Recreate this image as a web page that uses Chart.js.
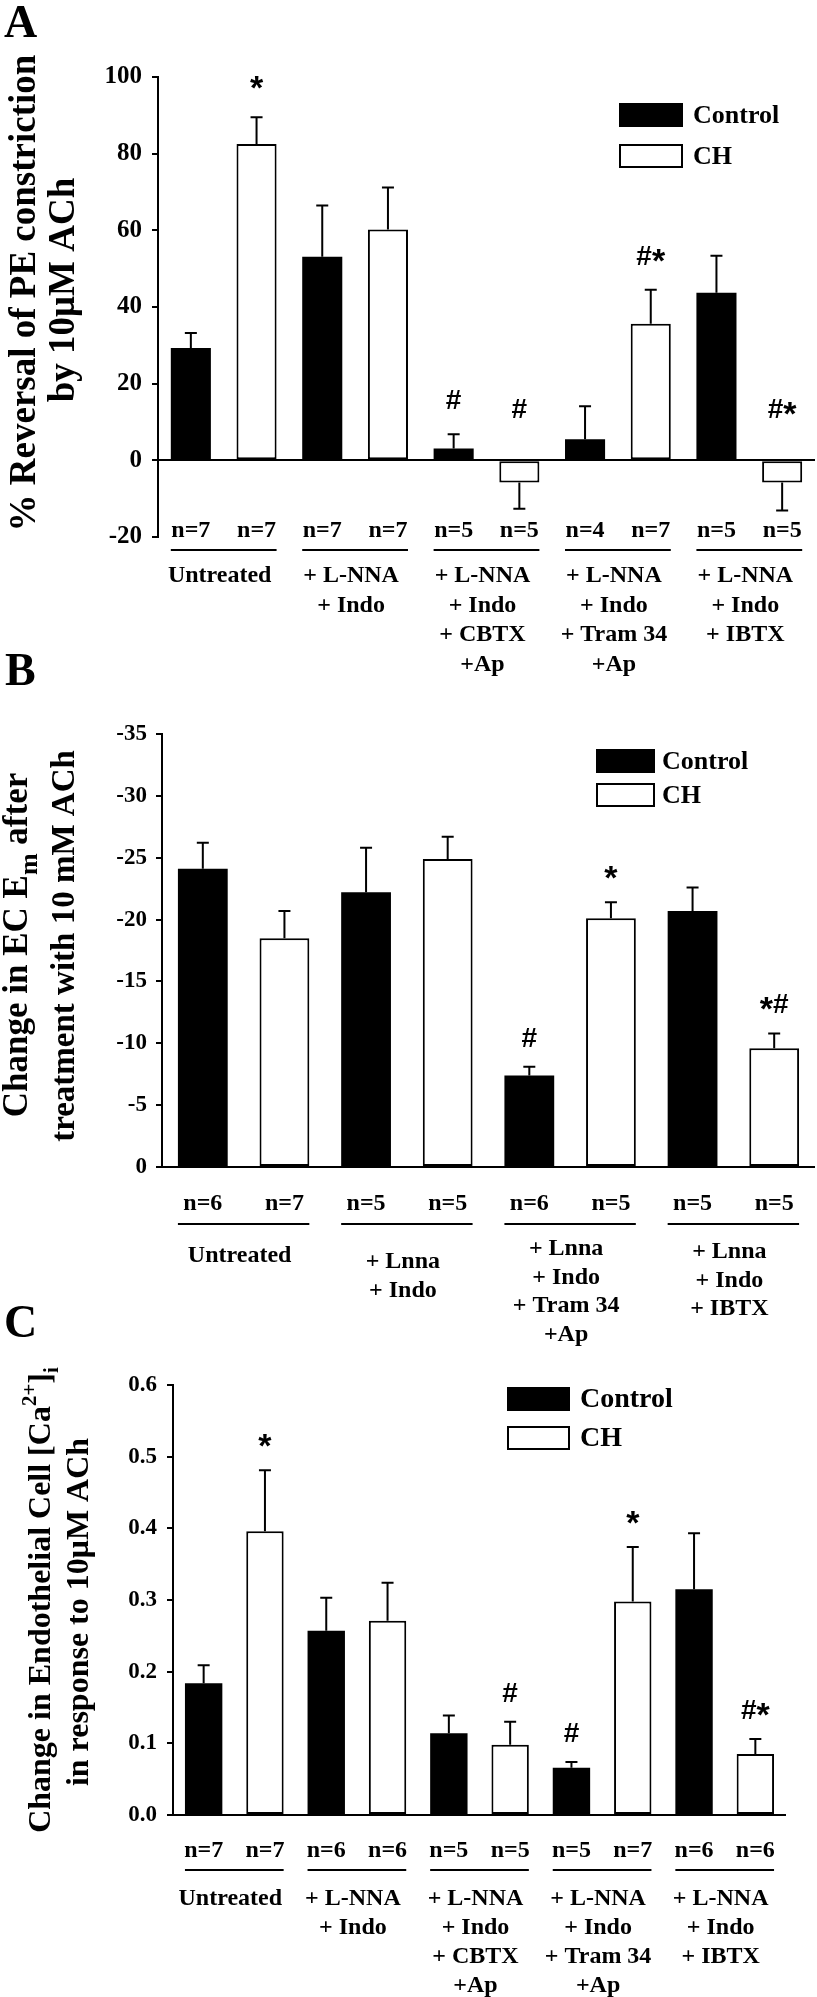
<!DOCTYPE html>
<html>
<head>
<meta charset="utf-8">
<script src="https://cdn.jsdelivr.net/npm/chart.js@4.4.0/dist/chart.umd.min.js"></script>
<style>
  html, body { margin: 0; padding: 0; background: #fff; }
  body { position: relative; width: 817px; height: 1997px; overflow: hidden; }
  .panel { position: absolute; left: 0; }
  .panel canvas { display: block; }
  .letter { position: absolute; font: bold 46px "Liberation Serif", "Times New Roman", serif; color: #000; line-height: 1; }
</style>
</head>
<body>
<div class="panel" style="top:0"><canvas id="chartA" width="817" height="700"></canvas></div>
<div class="panel" style="top:700px"><canvas id="chartB" width="817" height="650"></canvas></div>
<div class="panel" style="top:1350px"><canvas id="chartC" width="817" height="647"></canvas></div>
<div class="letter" style="left:4px;top:-1px">A</div>
<div class="letter" style="left:5px;top:647px">B</div>
<div class="letter" style="left:4px;top:1299px">C</div>
<script>
// ---- Panel A : % reversal of PE constriction ----
const groupsA = [['Untreated'], ['+ L-NNA', '+ Indo'], ['+ L-NNA', '+ Indo', '+ CBTX', '+Ap'],
                 ['+ L-NNA', '+ Indo', '+ Tram 34', '+Ap'], ['+ L-NNA', '+ Indo', '+ IBTX']];
const valA_control = [29.3, 53.1, 3.1, 5.5, 43.7];
const semA_control = [3.9, 13.4, 3.7, 8.6, 9.7];
const valA_ch = [82.5, 60.2, -5.8, 35.6, -5.8];
const semA_ch = [7.0, 11.0, 6.8, 8.9, 7.3];
const nA_control = [7, 7, 5, 4, 5];
const nA_ch = [7, 7, 5, 7, 5];
const sigA_control = ['', '', '#', '', ''];
const sigA_ch = ['*', '', '#', '#*', '#*'];
const ticksA = { min: -20, max: 100, step: 20 };

// ---- Panel B : change in EC Em ----
const groupsB = [['Untreated'], ['+ Lnna', '+ Indo'], ['+ Lnna', '+ Indo', '+ Tram 34', '+Ap'],
                 ['+ Lnna', '+ Indo', '+ IBTX']];
const valB_control = [-24.1, -22.2, -7.4, -20.7];
const semB_control = [2.1, 3.6, 0.7, 1.9];
const valB_ch = [-18.5, -24.9, -20.1, -9.6];
const semB_ch = [2.2, 1.8, 1.3, 1.2];
const nB_control = [6, 5, 6, 5];
const nB_ch = [7, 5, 5, 5];
const sigB_control = ['', '', '#', ''];
const sigB_ch = ['', '', '*', '*#'];
const ticksB = { min: -35, max: 0, step: 5 };

// ---- Panel C : change in endothelial [Ca2+]i ----
const groupsC = groupsA;
const valC_control = [0.184, 0.257, 0.114, 0.066, 0.315];
const semC_control = [0.025, 0.046, 0.025, 0.008, 0.078];
const valC_ch = [0.396, 0.271, 0.098, 0.298, 0.085];
const semC_ch = [0.085, 0.053, 0.032, 0.076, 0.021];
const nC_control = [7, 6, 5, 5, 6];
const nC_ch = [7, 6, 5, 7, 6];
const sigC_control = ['', '', '', '#', ''];
const sigC_ch = ['*', '', '#', '*', '#*'];
const ticksC = { min: 0, max: 0.6, step: 0.1 };

const SERIF = '"Liberation Serif", "Times New Roman", serif';
const SANS = '"Liberation Sans", Arial, sans-serif';
Chart.defaults.font.family = SERIF;
Chart.defaults.font.weight = 'bold';
Chart.defaults.color = '#000';

// draws "#", "*" or combos, with a bigger asterisk like the original
function drawSig(ctx, text, cx, base) {
    const parts = text.split('').map(ch => ({
        ch, font: ch === '*' ? 'bold 34px ' + SANS : 'bold 28px ' + SANS, dy: ch === '*' ? 7 : 0
    }));
    let w = 0;
    parts.forEach(p => { ctx.font = p.font; p.w = ctx.measureText(p.ch).width; w += p.w; });
    let x = cx - w / 2;
    ctx.textAlign = 'left';
    parts.forEach(p => { ctx.font = p.font; ctx.fillText(p.ch, x, base + p.dy); x += p.w; });
    ctx.textAlign = 'center';
}

// error bars, significance marks, n= labels, group lines and group names
const decorPlugin = {
    id: 'decor',
    afterDatasetsDraw(chart, args, o) {
        const ctx = chart.ctx;
        const y = chart.scales.y;
        const area = chart.chartArea;
        const zero = y.getPixelForValue(0);
        ctx.save();
        ctx.strokeStyle = '#000';
        ctx.fillStyle = '#000';
        ctx.lineWidth = 2;
        ctx.textAlign = 'center';
        ctx.textBaseline = 'alphabetic';
        chart.data.datasets.forEach((ds, di) => {
            const meta = chart.getDatasetMeta(di);
            meta.data.forEach((bar, i) => {
                const v = ds.data[i];
                const err = v + Math.sign(v) * ds.sem[i];
                const yv = y.getPixelForValue(v);
                const ye = y.getPixelForValue(err);
                ctx.beginPath();
                ctx.moveTo(bar.x, yv);
                ctx.lineTo(bar.x, ye);
                ctx.moveTo(bar.x - o.cap, ye);
                ctx.lineTo(bar.x + o.cap, ye);
                ctx.stroke();
                if (ds.sig[i]) {
                    const up = yv < zero;
                    const base = up ? ye - o.sigGap : zero - o.sigGapNeg;
                    drawSig(ctx, ds.sig[i], bar.x, base);
                }
                ctx.font = o.nFont;
                ctx.fillText('n=' + ds.n[i], bar.x, area.bottom + o.nOffset);
            });
        });
        const m0 = chart.getDatasetMeta(0);
        const m1 = chart.getDatasetMeta(1);
        ctx.font = o.groupFont;
        chart.data.labels.forEach((lines, i) => {
            const b0 = m0.data[i], b1 = m1.data[i];
            const ly = area.bottom + o.lineOffset;
            ctx.beginPath();
            ctx.moveTo(b0.x - b0.width / 2, ly);
            ctx.lineTo(b1.x + b1.width / 2, ly);
            ctx.stroke();
            const cx = (b0.x + b1.x) / 2 + o.xShift;
            const top = area.bottom + (Array.isArray(o.labelOffset) ? o.labelOffset[i] : o.labelOffset);
            lines.forEach((t, k) => ctx.fillText(t, cx, top + k * o.lineHeight));
        });
        ctx.restore();
    }
};

// legend boxes drawn from the datasets
const boxLegend = {
    id: 'boxLegend',
    afterDraw(chart, args, o) {
        const ctx = chart.ctx;
        ctx.save();
        chart.data.datasets.forEach((ds, i) => {
            const top = o.y + i * o.gap;
            ctx.fillStyle = ds.backgroundColor;
            ctx.fillRect(o.x, top, o.w, o.h);
            ctx.strokeStyle = '#000';
            ctx.lineWidth = 2;
            ctx.strokeRect(o.x + 1, top + 1, o.w - 2, o.h - 2);
            ctx.fillStyle = '#000';
            ctx.font = o.font;
            ctx.textAlign = 'left';
            ctx.textBaseline = 'middle';
            ctx.fillText(ds.label, o.textX, top + o.h / 2 + 1);
        });
        ctx.restore();
    }
};

// rotated y axis title with sub/superscripts
const yTitle = {
    id: 'yTitle',
    afterDraw(chart, args, o) {
        const ctx = chart.ctx;
        ctx.save();
        ctx.fillStyle = '#000';
        ctx.textBaseline = 'alphabetic';
        ctx.textAlign = 'left';
        o.lines.forEach((segs, li) => {
            const size = o.size[li];
            const fontOf = s => 'bold ' + (s.size || size) + 'px ' + SERIF;
            let w = 0;
            segs.forEach(s => { ctx.font = fontOf(s); w += ctx.measureText(s.t).width; });
            ctx.save();
            ctx.translate(o.x[li], o.cy[li]);
            ctx.rotate(-Math.PI / 2);
            let px = -w / 2;
            segs.forEach(s => {
                ctx.font = fontOf(s);
                ctx.fillText(s.t, px, s.dy || 0);
                px += ctx.measureText(s.t).width;
            });
            ctx.restore();
        });
        ctx.restore();
    }
};

function barDatasets(vc, sc, nc, gc, vh, sh, nh, gh) {
    return [
        { label: 'Control', data: vc, sem: sc, n: nc, sig: gc,
          backgroundColor: '#000', borderColor: '#000', borderWidth: 0,
          categoryPercentage: 1, barPercentage: 0.61 },
        { label: 'CH', data: vh, sem: sh, n: nh, sig: gh,
          backgroundColor: '#fff', borderColor: '#000', borderWidth: 2, borderSkipped: false,
          categoryPercentage: 1, barPercentage: 0.61 }
    ];
}

function makeChart(id, labels, datasets, t, cfg) {
    return new Chart(document.getElementById(id), {
        type: 'bar',
        data: { labels: labels, datasets: datasets },
        plugins: [decorPlugin, boxLegend, yTitle],
        options: {
            responsive: false,
            animation: false,
            events: [],
            layout: { padding: cfg.padding },
            scales: {
                x: { display: false },
                y: {
                    min: t.min, max: t.max, reverse: !!cfg.reverse,
                    afterFit: s => { s.width = cfg.axisX; },
                    border: { display: true, color: '#000', width: 2 },
                    grid: {
                        color: c => (c.tick && Math.abs(c.tick.value) < 1e-9) ? '#000' : 'rgba(0,0,0,0)',
                        tickColor: '#000', lineWidth: 2, tickWidth: 2, tickLength: 6
                    },
                    ticks: {
                        stepSize: t.step, padding: cfg.tickPad, color: '#000',
                        font: { size: cfg.tickSize, weight: 'bold', family: SERIF },
                        callback: cfg.fmt || (v => v)
                    }
                }
            },
            plugins: {
                legend: { display: false },
                tooltip: { enabled: false },
                decor: cfg.decor,
                boxLegend: cfg.legend,
                yTitle: cfg.title
            }
        }
    });
}

makeChart('chartA', groupsA,
    barDatasets(valA_control, semA_control, nA_control, sigA_control, valA_ch, semA_ch, nA_ch, sigA_ch),
    ticksA, {
        padding: { top: 77, right: 2, bottom: 163, left: 0 },
        axisX: 158, tickPad: 10, tickSize: 25,
        decor: { cap: 6, sigGap: 25, sigGapNeg: 42,
                 nFont: 'bold 24px ' + SERIF, nOffset: 0, lineOffset: 13,
                 groupFont: 'bold 24px ' + SERIF, labelOffset: 45, lineHeight: 29.5, xShift: -4 },
        legend: { x: 619, y: 103, w: 64, h: 24, gap: 41, textX: 693, font: 'bold 26px ' + SERIF },
        title: { size: [37, 37], cy: [293, 290], x: [35, 74], lines: [
            [{ t: '% Reversal of PE constriction' }],
            [{ t: 'by 10\u03bcM ACh' }]
        ] }
    });

makeChart('chartB', groupsB,
    barDatasets(valB_control, semB_control, nB_control, sigB_control, valB_ch, semB_ch, nB_ch, sigB_ch),
    ticksB, {
        reverse: true,
        padding: { top: 34, right: 2, bottom: 183, left: 0 },
        axisX: 162, tickPad: 9, tickSize: 23,
        decor: { cap: 6, sigGap: 20, sigGapNeg: 45,
                 nFont: 'bold 24px ' + SERIF, nOffset: 43, lineOffset: 57,
                 groupFont: 'bold 24px ' + SERIF, labelOffset: [95, 101, 88, 91], lineHeight: 28.7, xShift: -4 },
        legend: { x: 596, y: 49, w: 59, h: 24, gap: 34, textX: 662, font: 'bold 26px ' + SERIF },
        title: { size: [35, 33], cy: [245, 246], x: [27, 74], lines: [
            [{ t: 'Change in EC E' }, { t: 'm', size: 26, dy: 10 }, { t: ' after' }],
            [{ t: 'treatment with 10 mM ACh' }]
        ] }
    });

makeChart('chartC', groupsC,
    barDatasets(valC_control, semC_control, nC_control, sigC_control, valC_ch, semC_ch, nC_ch, sigC_ch),
    ticksC, {
        padding: { top: 35, right: 31, bottom: 182, left: 0 },
        axisX: 173, tickPad: 10, tickSize: 23,
        fmt: v => v.toFixed(1),
        decor: { cap: 6, sigGap: 20, sigGapNeg: 45,
                 nFont: 'bold 24px ' + SERIF, nOffset: 42, lineOffset: 55,
                 groupFont: 'bold 24px ' + SERIF, labelOffset: 90, lineHeight: 29, xShift: -4 },
        legend: { x: 507, y: 37, w: 63, h: 24, gap: 39, textX: 580, font: 'bold 28px ' + SERIF },
        title: { size: [32, 32], cy: [250, 262], x: [50, 88], lines: [
            [{ t: 'Change in Endothelial Cell [Ca' }, { t: '2+', size: 21, dy: -14 }, { t: ']' }, { t: 'i', size: 21, dy: 8 }],
            [{ t: 'in response to 10\u03bcM ACh' }]
        ] }
    });
</script>
</body>
</html>
